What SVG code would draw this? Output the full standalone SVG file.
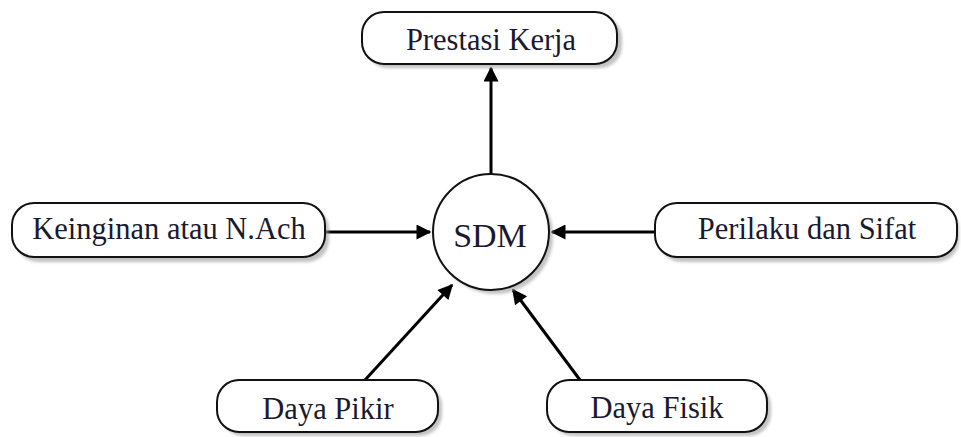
<svg xmlns="http://www.w3.org/2000/svg" width="961" height="437" viewBox="0 0 961 437">
<style>
.box{fill:#fff;stroke:#111;stroke-width:2}
.sh{fill:#9a9a9a;opacity:0.6}
.t{font-family:"Liberation Serif","Times New Roman",serif;font-size:30.5px;fill:#1a1a2e;text-anchor:middle}
.c{stroke:#000;stroke-width:3;fill:none;marker-end:url(#ah)}
</style>
<defs>
<marker id="ah" viewBox="0 0 10 10" refX="9" refY="5" markerWidth="6" markerHeight="5" orient="auto" markerUnits="strokeWidth"><path d="M0,0 L10,5 L0,10 z" fill="#000"/></marker>
<filter id="blur" x="-10%" y="-20%" width="120%" height="140%"><feGaussianBlur stdDeviation="1.5"/></filter>
</defs>
<rect width="961" height="437" fill="#fff"/>
<g id="connectors">
<line class="c" x1="491" y1="174" x2="491" y2="68"/>
<line class="c" x1="326" y1="232" x2="430" y2="232"/>
<line class="c" x1="655" y1="232" x2="552" y2="232"/>
<line class="c" x1="365" y1="380" x2="452" y2="285"/>
<line class="c" x1="580" y1="380" x2="513" y2="290"/>
</g>
<g id="prestasi">
<rect class="sh" x="366" y="16" width="256" height="52" rx="22" filter="url(#blur)"/>
<rect class="box" x="362" y="12" width="255" height="52" rx="22"/>
<text class="t" x="491" y="50">Prestasi Kerja</text>
</g>
<g id="keinginan">
<rect class="sh" x="16" y="207" width="313" height="55" rx="22" filter="url(#blur)"/>
<rect class="box" x="12" y="203" width="313" height="54" rx="22"/>
<text class="t" x="169" y="239">Keinginan atau N.Ach</text>
</g>
<g id="sdm">
<circle cx="495" cy="236" r="58" class="sh" filter="url(#blur)"/>
<circle cx="491" cy="232" r="58" class="box"/>
<text class="t" x="490" y="247" style="font-size:34px">SDM</text>
</g>
<g id="perilaku">
<rect class="sh" x="659" y="207" width="300" height="55" rx="22" filter="url(#blur)"/>
<rect class="box" x="655" y="203" width="302" height="54" rx="22"/>
<text class="t" x="807" y="239">Perilaku dan Sifat</text>
</g>
<g id="dayapikir">
<rect class="sh" x="221" y="384" width="221" height="52" rx="22" filter="url(#blur)"/>
<rect class="box" x="217" y="380" width="221" height="52" rx="22"/>
<text class="t" x="328" y="419">Daya Pikir</text>
</g>
<g id="dayafisik">
<rect class="sh" x="551" y="384" width="220" height="52" rx="22" filter="url(#blur)"/>
<rect class="box" x="547" y="380" width="220" height="52" rx="22"/>
<text class="t" x="657" y="418">Daya Fisik</text>
</g>
</svg>
